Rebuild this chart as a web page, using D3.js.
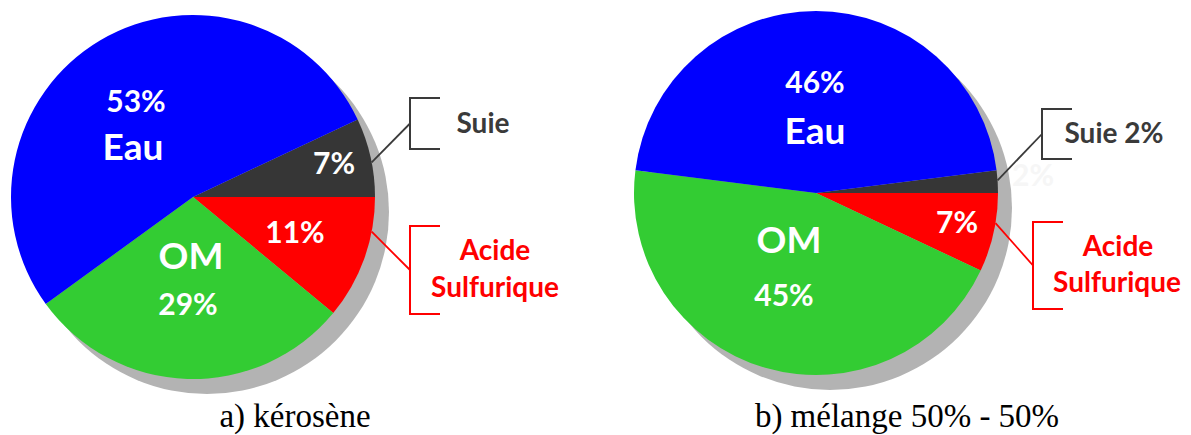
<!DOCTYPE html>
<html>
<head>
<meta charset="utf-8">
<script src="https://cdn.jsdelivr.net/npm/d3@7"></script>
<style>
  html, body { margin: 0; padding: 0; background: #ffffff; }
  svg { display: block; }
</style>
</head>
<body>
<svg id="chart" width="1191" height="435"></svg>
<script>
// Composition of the deposits, in percent
const categories = ["Suie", "Acide Sulfurique", "OM", "Eau"];
const keroseneValues = [7, 11, 29, 53];
const melangeValues = [2, 7, 45, 46];
const captions = ["a) kérosène", "b) mélange 50% - 50%"];

const colors = {
  "Suie": "#363636",
  "Acide Sulfurique": "#ff0000",
  "OM": "#33cc33",
  "Eau": "#0000ff"
};
const shadowColor = "#b3b3b3";
const labelFont = "Lato, 'Open Sans', sans-serif";

const svg = d3.select("#chart");
const radius = 182;
const shadowOffset = [14, 15];

const arc = d3.arc().innerRadius(0).outerRadius(radius);

// Per-pie layout: centre, in-slice labels, callouts, caption
const pies = [
  {
    values: keroseneValues,
    caption: captions[0],
    center: [193, 197],
    captionX: 295,
    inside: {
      "Eau": [{ t: v => v + "%", dx: -57, y: -85, size: 30 }, { t: () => "Eau", dx: -60, y: -37, size: 37 }],
      "Suie": [{ t: v => v + "%", dx: 141, y: -23, size: 30 }],
      "Acide Sulfurique": [{ t: v => v + "%", dx: 102, y: 46, size: 30 }],
      "OM": [{ t: () => "OM", dx: -2, y: 72, size: 37 }, { t: v => v + "%", dx: -5, y: 118, size: 30 }]
    },
    callouts: [
      { key: "Suie", angle: 11, bx: 410, top: 98, bottom: 149, color: "#3a3a3a",
        lines: [{ t: () => "Suie", cx: 483, y: 133 }] },
      { key: "Acide Sulfurique", angle: -11, bx: 410, top: 226, bottom: 314, color: "#ff0000",
        lines: [{ t: () => "Acide", cx: 495, y: 260 }, { t: () => "Sulfurique", cx: 495, y: 297 }] }
    ]
  },
  {
    values: melangeValues,
    caption: captions[1],
    center: [816, 193],
    captionX: 907,
    inside: {
      "Eau": [{ t: v => v + "%", dx: -1, y: -100, size: 30 }, { t: () => "Eau", dx: -1, y: -49, size: 37 }],
      "Acide Sulfurique": [{ t: v => v + "%", dx: 141, y: 40, size: 30 }],
      "OM": [{ t: () => "OM", dx: -27, y: 60, size: 37 }, { t: v => v + "%", dx: -32, y: 113, size: 30 }]
    },
    ghost: { key: "Suie", dx: 217, y: -7 },
    callouts: [
      { key: "Suie", angle: 4, bx: 1042, top: 109, bottom: 159, color: "#3a3a3a",
        lines: [{ t: v => "Suie " + v + "%", cx: 1114, y: 143 }] },
      { key: "Acide Sulfurique", angle: -9.5, bx: 1033, top: 222, bottom: 309, color: "#ff0000",
        lines: [{ t: () => "Acide", cx: 1118, y: 256 }, { t: () => "Sulfurique", cx: 1117, y: 292 }] }
    ]
  }
];

pies.forEach(p => {
  const data = categories.map((c, i) => ({ key: c, value: p.values[i] }));
  const total = d3.sum(data, d => d.value);
  // The acid slice starts exactly at 3 o'clock; soot sits just above it
  const start = Math.PI / 2 - (data[0].value / total) * 2 * Math.PI;
  const pie = d3.pie().sort(null).value(d => d.value)
    .startAngle(start).endAngle(start + 2 * Math.PI);
  const arcs = pie(data);

  const [cx, cy] = p.center;

  // drop shadow
  svg.append("circle")
    .attr("cx", cx + shadowOffset[0])
    .attr("cy", cy + shadowOffset[1])
    .attr("r", radius)
    .attr("fill", shadowColor);

  const g = svg.append("g").attr("transform", `translate(${cx},${cy})`);

  g.selectAll("path.slice")
    .data(arcs)
    .join("path")
    .attr("class", "slice")
    .attr("d", arc)
    .attr("fill", d => colors[d.data.key]);

  // faint leftover label beside the thin soot slice
  if (p.ghost) {
    const v = data.find(d => d.key === p.ghost.key).value;
    g.append("text")
      .attr("x", p.ghost.dx).attr("y", p.ghost.y)
      .attr("text-anchor", "middle")
      .attr("font-family", labelFont).attr("font-weight", 700)
      .attr("font-size", 30)
      .attr("fill", "#f6f6f6")
      .text(v + "%");
  }

  // labels inside the slices
  arcs.forEach(a => {
    const lines = p.inside[a.data.key];
    if (!lines) return;
    lines.forEach(l => {
      g.append("text")
        .attr("x", l.dx).attr("y", l.y)
        .attr("text-anchor", "middle")
        .attr("font-family", labelFont)
        .attr("font-weight", 700)
        .attr("font-size", l.size)
        .attr("fill", "#ffffff")
        .text(l.t(a.data.value));
    });
  });

  // bracket callouts for the small slices
  p.callouts.forEach(c => {
    const v = data.find(d => d.key === c.key).value;
    const ang = c.angle * Math.PI / 180;
    const ex = cx + radius * Math.cos(ang);
    const ey = cy - radius * Math.sin(ang);
    const my = (c.top + c.bottom) / 2;
    svg.append("line")
      .attr("x1", ex).attr("y1", ey)
      .attr("x2", c.bx).attr("y2", my)
      .attr("stroke", c.color).attr("stroke-width", 1.8);
    svg.append("path")
      .attr("d", `M${c.bx + 30},${c.top}H${c.bx}V${c.bottom}H${c.bx + 30}`)
      .attr("fill", "none")
      .attr("stroke", c.color).attr("stroke-width", 2);
    c.lines.forEach(l => {
      svg.append("text")
        .attr("x", l.cx).attr("y", l.y)
        .attr("text-anchor", "middle")
        .attr("font-family", labelFont)
        .attr("font-weight", 700)
        .attr("font-size", 28)
        .attr("fill", c.color)
        .text(l.t(v));
    });
  });

  // caption
  svg.append("text")
    .attr("x", p.captionX).attr("y", 427)
    .attr("text-anchor", "middle")
    .attr("font-family", "'Liberation Serif', 'DejaVu Serif', serif")
    .attr("font-size", 33)
    .attr("fill", "#000000")
    .text(p.caption);
});
</script>
</body>
</html>
